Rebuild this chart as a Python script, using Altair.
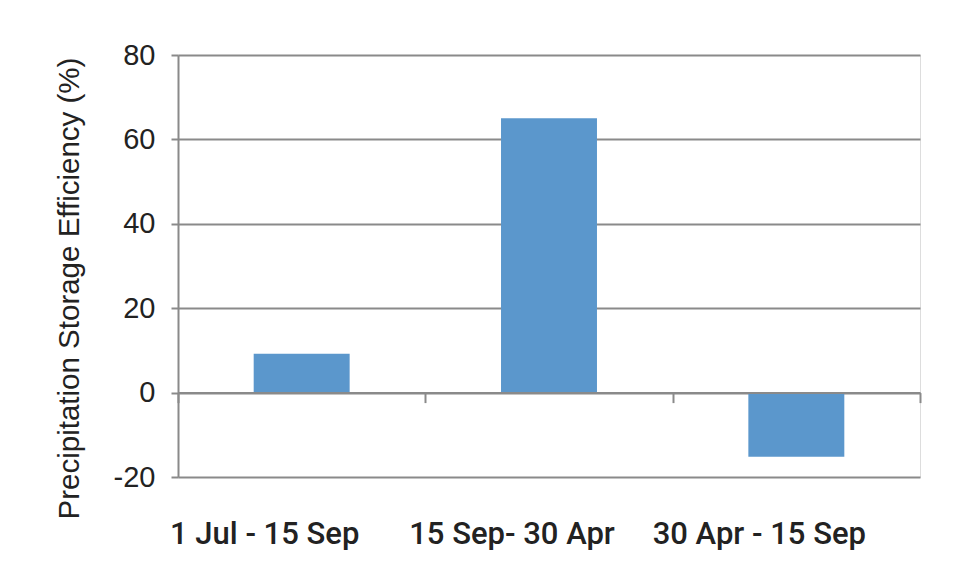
import altair as alt
import pandas as pd

categories = ["1 Jul - 15 Sep", "15 Sep- 30 Apr", "30 Apr - 15 Sep"]
values = [9.2, 65, -15.2]
y_ticks = [-20, 0, 20, 40, 60, 80]

df = pd.DataFrame({"period": categories, "pse": values})

GRAY = "#8a8a8a"

bars = alt.Chart(df).mark_bar(color="#5b97cc").encode(
    x=alt.X("period:N", sort=categories, title=None,
            scale=alt.Scale(paddingInner=0.612, paddingOuter=0.306),
            axis=alt.Axis(orient="bottom", domain=False, ticks=False, grid=False,
                          labelFont="Roboto", labelFontWeight=500, labelFontSize=31,
                          labelColor="#222222", labelAngle=0, labelPadding=66,
                          labelBaseline="alphabetic", labelOffset=-37, labelLimit=0)),
    y=alt.Y("pse:Q", title="Precipitation Storage Efficiency (%)",
            scale=alt.Scale(domain=[-20, 80], nice=False, zero=False),
            axis=alt.Axis(values=y_ticks, grid=True, gridColor=GRAY, gridWidth=2,
                          domain=True, domainColor=GRAY, domainWidth=2,
                          ticks=True, tickColor=GRAY, tickWidth=2, tickSize=7,
                          labelExpr="'' + datum.value",
                          labelFont="Liberation Sans", labelFontSize=29, labelColor="#222222",
                          labelPadding=16,
                          titleFont="Liberation Sans", titleFontSize=29.5, titleFontWeight="normal",
                          titleColor="#222222", titleX=-100, titleY=233, titleAngle=270,
                          titleAlign="center", titleBaseline="alphabetic")),
)

zero_axis = alt.Chart(df).mark_bar(opacity=0).encode(
    x=alt.X("period:N", sort=categories, title=None,
            scale=alt.Scale(paddingInner=0, paddingOuter=0),
            axis=alt.Axis(orient="bottom", offset=-84.4, labels=False, grid=False,
                          domain=True, domainColor=GRAY, domainWidth=2,
                          ticks=True, tickColor=GRAY, tickWidth=2, tickSize=10,
                          tickBand="extent", zindex=1)),
    y=alt.Y("pse:Q"),
)

chart = alt.layer(bars, zero_axis).resolve_scale(x="independent").resolve_axis(
    x="independent"
).properties(
    width=742, height=422,
    autosize=alt.AutoSizeParams(type="none"),
    padding={"left": 170, "top": 47, "right": 30, "bottom": 85},
).configure_view(stroke=None).configure(background="white")

chart.save("out.html", embed_options={"renderer": "svg", "actions": False})
